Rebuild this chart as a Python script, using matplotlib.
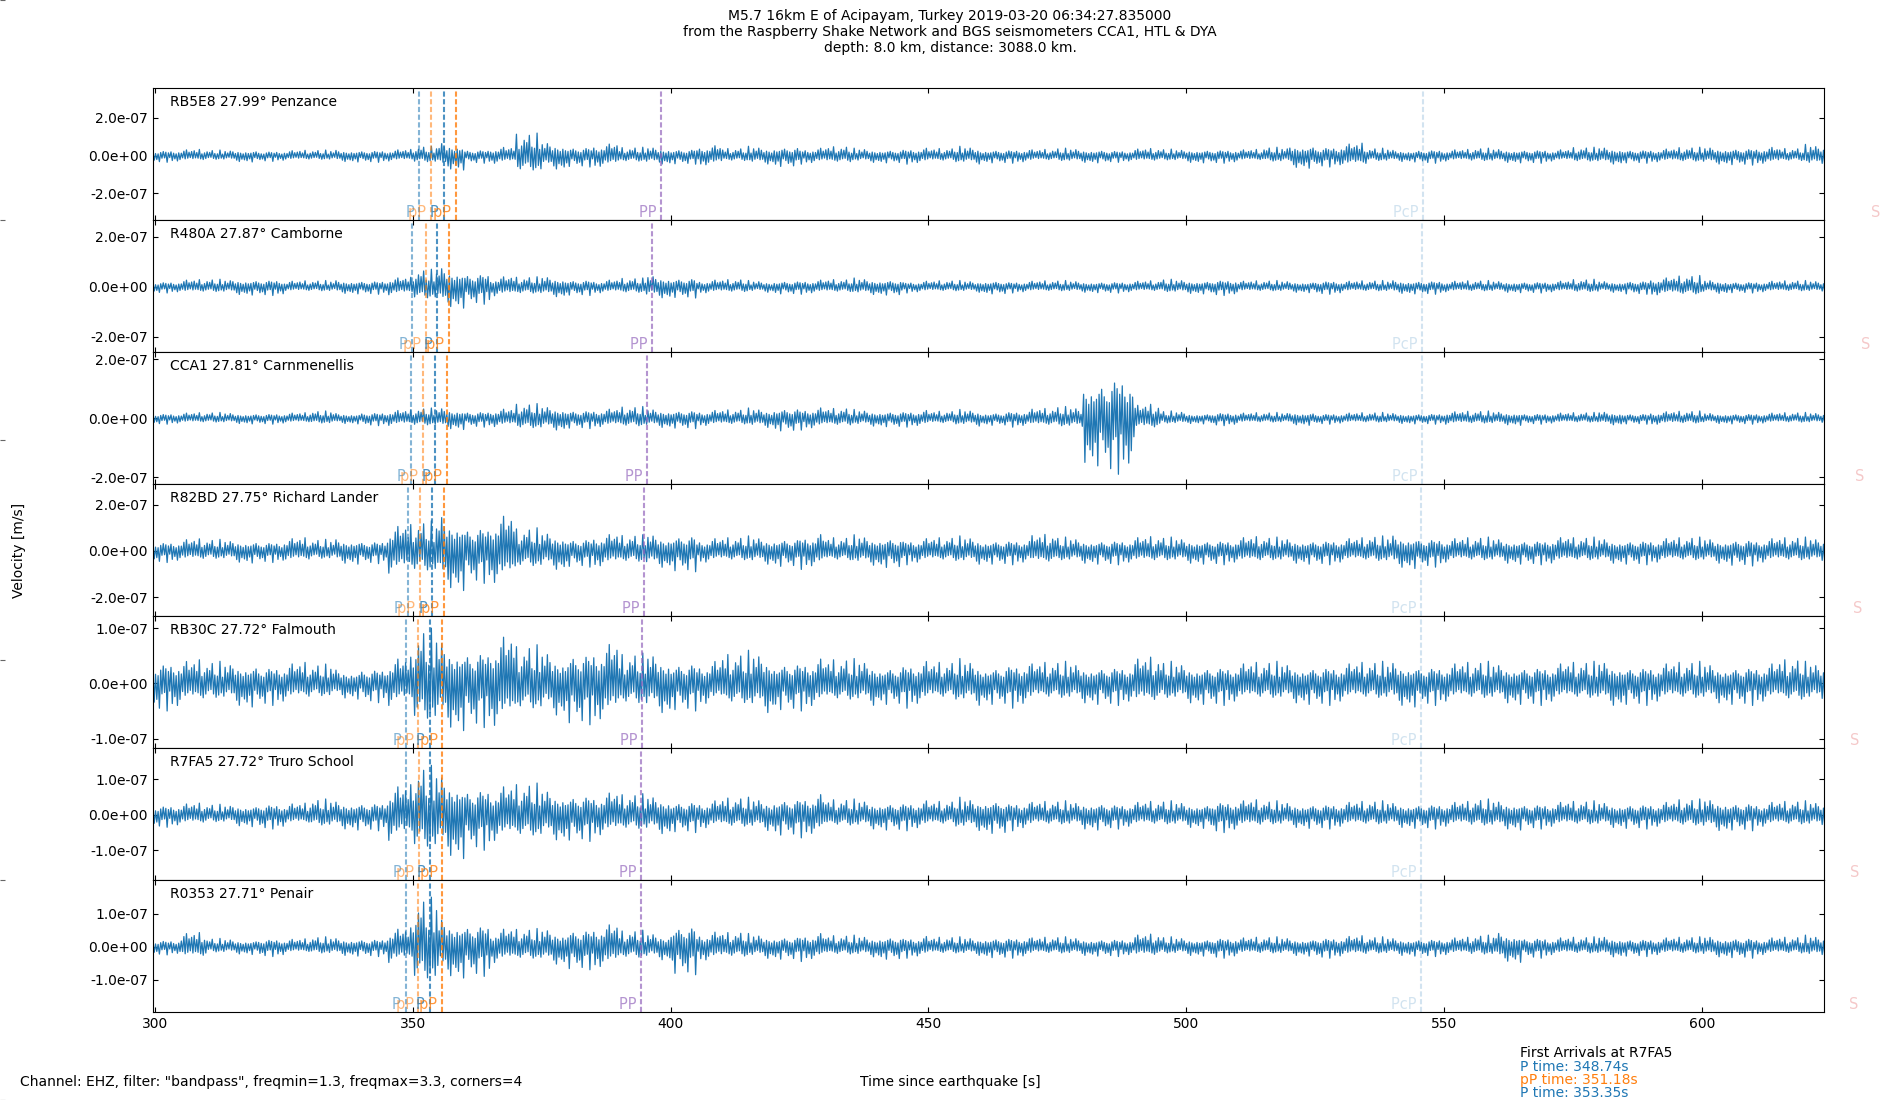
import numpy as np
import matplotlib
matplotlib.use('Agg')
import matplotlib.pyplot as plt
from matplotlib.ticker import FormatStrFormatter

# stations, top to bottom
stations = ['RB5E8 27.99° Penzance', 'R480A 27.87° Camborne', 'CCA1 27.81° Carnmenellis',
            'R82BD 27.75° Richard Lander', 'RB30C 27.72° Falmouth', 'R7FA5 27.72° Truro School',
            'R0353 27.71° Penair']

# peak amplitude per 5 s window from 300 s to 625 s (units 1e-8 m/s)
env_rb5e8 = [3.5, 3.5, 3, 3.5, 3, 3, 3, 3.5, 3.5, 3.5,
             5, 8, 4, 5, 12, 8, 6, 7, 4.5, 5,
             4.5, 6, 4, 5, 6, 4.5, 5, 4, 4, 4.5,
             4, 5, 4, 4, 3.5, 4, 4, 3.5, 4, 3.5,
             4, 4, 3.5, 4.5, 7, 6, 7, 4, 3.5, 4,
             3.5, 4, 4, 4, 3.5, 4.5, 5, 4, 4, 4.5,
             5, 5, 5, 4, 6]
env_r480a = [2.5, 3, 3, 3.5, 3.5, 2.5, 2.5, 3, 3, 4,
             7, 9, 7, 4.5, 4, 4.5, 3.5, 3, 3.5, 5,
             4.5, 3, 3, 2.5, 3, 3, 3, 3.5, 3.5, 2.5,
             2.5, 2.5, 3, 2.5, 2.5, 2.5, 2.5, 2.5, 2.5, 3,
             3, 3.5, 2.5, 2.5, 2.5, 3, 2.5, 2.5, 3, 3,
             2.5, 2.5, 2.5, 2.5, 2.5, 3, 2.5, 3, 4, 4.5,
             3, 2.5, 2.5, 2.5, 2.5]
env_cca1 = [2, 2, 2, 2, 2, 2, 2.5, 2, 2.5, 3,
            3.5, 4, 3, 3.5, 5, 4.5, 3.5, 3.5, 4, 3.5,
            3.5, 3, 3, 3.5, 4.5, 4, 3.5, 3, 3, 3,
            2.5, 3, 2.5, 3, 3.5, 4, 17, 19, 5, 2.5,
            2, 2.5, 2, 2, 2.5, 2, 2, 2, 2, 2,
            2.5, 2.5, 2.5, 2, 2, 2, 2.5, 2, 2.5, 2.5,
            2, 2, 2, 2, 2]
env_r82bd = [5, 5.5, 5, 5.5, 5, 6, 5, 6, 5.5, 12,
             13, 18, 14, 17, 10, 9, 7, 8, 7, 8,
             9, 6, 6, 6.5, 7, 8, 6, 7, 7.5, 6,
             6, 6.5, 6, 6, 7.5, 6, 6, 6, 6.5, 6,
             6, 6, 6.5, 6, 6, 6, 6, 6.5, 8, 7,
             6, 6, 6, 6, 6.5, 6, 6, 6, 6, 6,
             6, 6.5, 6, 6, 6]
env_rb30c = [5, 4.5, 4, 4.5, 4, 4, 3.5, 3, 3.5, 5,
             10, 9, 8, 9.5, 7, 6.5, 7.5, 8, 5.5, 6,
             5, 4.5, 5.5, 6, 5, 5, 4.5, 4.5, 4, 4.5,
             4, 4.5, 4, 4.5, 4, 4, 4, 4, 5, 4,
             4, 4, 4, 4, 4, 4, 4, 4, 4.5, 4,
             4, 4, 4, 4, 4, 4, 4.5, 4, 4, 4,
             4, 4, 4, 4.5, 4]
env_r7fa5 = [3.5, 3.5, 3, 3.5, 4, 3.5, 4.5, 4.5, 4.5, 9,
             14, 13, 10, 9, 9, 8, 7.5, 7, 6, 6,
             5, 4.5, 5, 5, 6, 6.5, 4.5, 4.5, 4.5, 4.5,
             4, 5, 5.5, 4.5, 4, 4, 4.5, 4, 4, 4,
             4, 5, 4.5, 4, 4, 4, 4, 4, 4, 4,
             4, 4.5, 4.5, 4, 4, 4, 4, 4, 4, 4.5,
             5, 4.5, 4, 4, 4]
env_r0353 = [2.5, 4.5, 2.5, 2.5, 3, 2.5, 3, 3, 3, 6,
             15, 10, 9, 6, 5.5, 6, 7, 7.5, 5, 4.5,
             8.5, 5, 4.5, 4, 4, 4.5, 3.5, 3.5, 4, 3.5,
             3, 3, 3.5, 3.5, 3, 3, 3, 3, 4, 3,
             3, 3.5, 3, 3, 3, 3.5, 3.5, 3, 3, 3,
             3, 3.5, 5, 3.5, 3, 3, 3.5, 3, 3, 3,
             3.5, 3.5, 3, 3, 3.5]
envelopes = [env_rb5e8, env_r480a, env_cca1, env_r82bd, env_rb30c, env_r7fa5, env_r0353]

# relative heights of successive half-cycles (mostly low, a few full peaks)
half_cycle_shape = [0.43, 0.68, 0.33, 0.58, 0.28, 0.9, 0.48, 0.38, 0.63, 0.33,
                    0.53, 1.0, 0.43, 0.28, 0.58, 0.73, 0.38, 0.48, 0.28, 0.8,
                    0.43, 0.58, 0.38, 0.33, 0.68, 0.48, 0.88, 0.38, 0.53, 0.28,
                    0.63, 0.43, 0.75, 0.33, 0.48, 0.38, 0.95, 0.48, 0.28, 0.58, 0.43]

# arrival times per station [s]
phases = ['P', 'pP', 'P', 'pP', 'PP', 'PcP', 'S']
arrivals = [
    [351.2, 353.5, 356.0, 358.4, 398.1, 546.0, 635.5],
    [349.9, 352.5, 354.7, 357.0, 396.4, 545.8, 633.5],
    [349.6, 352.0, 354.3, 356.6, 395.5, 545.7, 632.5],
    [349.0, 351.3, 353.7, 356.0, 394.8, 545.6, 632.0],
    [348.7, 351.1, 353.3, 355.7, 394.4, 545.5, 631.4],
    [348.74, 351.18, 353.35, 355.7, 394.3, 545.5, 631.4],
    [348.65, 351.05, 353.25, 355.6, 394.2, 545.5, 631.3],
]
phase_colors = ['tab:blue', 'tab:orange', 'tab:blue', 'tab:orange', 'tab:purple', 'tab:blue', 'tab:red']
phase_alpha = [0.55, 0.55, 0.8, 0.8, 0.7, 0.2, 0.25]

ylims = [(-3.41e-7, 3.59e-7), (-2.61e-7, 2.67e-7), (-2.23e-7, 2.25e-7), (-2.81e-7, 2.89e-7),
         (-1.17e-7, 1.22e-7), (-1.84e-7, 1.89e-7), (-1.98e-7, 2.02e-7)]
yticks = [[-2e-7, 0, 2e-7]] * 4 + [[-1e-7, 0, 1e-7]] * 3

fig = plt.figure(figsize=(19, 11), dpi=100)
bg = fig.add_axes([0, 0, 1, 1], frameon=False)
bg.tick_params(direction='in', labelleft=False, labelbottom=False, bottom=False, color='0.4')
bg.set_zorder(-1)

axs = fig.subplots(7, 1, sharex=True)
plt.subplots_adjust(left=0.0805, right=0.96, bottom=0.08, top=0.92, hspace=0)

t = np.arange(299.6, 623.9, 0.25)
idx = np.clip(((t - 300) // 5).astype(int), 0, 64)
shape = np.array([half_cycle_shape[k % len(half_cycle_shape)] for k in range(len(t))])
sign = np.where(np.arange(len(t)) % 2 == 0, 1.0, -1.0)

for i, ax in enumerate(axs):
    env = np.array(envelopes[i]) * 1e-8
    ax.plot(t, sign * shape * env[idx], color='tab:blue', lw=0.9)
    ax.set_ylim(ylims[i])
    ax.set_yticks(yticks[i])
    ax.yaxis.set_major_formatter(FormatStrFormatter('%.1e'))
    ax.tick_params(direction='in', top=True, right=True)
    ax.text(0.01, 0.95, stations[i], transform=ax.transAxes, va='top', fontsize=10)
    for j, ph in enumerate(phases):
        tt = arrivals[i][j]
        ax.axvline(tt, color=phase_colors[j], alpha=phase_alpha[j], ls='--', lw=1.5, dashes=(2.5, 1.2))
        ax.text(tt, ylims[i][0], ph + ' ', ha='right', va='bottom', color=phase_colors[j],
                alpha=phase_alpha[j], fontsize=10.5)

axs[-1].set_xlim(299.6, 623.7)
axs[-1].set_xticks([300, 350, 400, 450, 500, 550, 600])

fig.suptitle('M5.7 16km E of Acipayam, Turkey 2019-03-20 06:34:27.835000\n'
             'from the Raspberry Shake Network and BGS seismometers CCA1, HTL & DYA\n'
             'depth: 8.0 km, distance: 3088.0 km.', y=0.992, fontsize=10)
fig.text(0.0065, 0.5, 'Velocity [m/s]', rotation=90, va='center', ha='left', fontsize=10)
fig.text(0.5, 0.0127, 'Time since earthquake [s]', ha='center', va='baseline', fontsize=10)
fig.text(0.0105, 0.0127, 'Channel: EHZ, filter: "bandpass", freqmin=1.3, freqmax=3.3, corners=4',
         ha='left', va='baseline', fontsize=10)

fig.text(0.8, 0.0391, 'First Arrivals at R7FA5', va='baseline', fontsize=10)
fig.text(0.8, 0.0268, 'P time: 348.74s', color='tab:blue', va='baseline', fontsize=10)
fig.text(0.8, 0.0145, 'pP time: 351.18s', color='tab:orange', va='baseline', fontsize=10)
fig.text(0.8, 0.0027, 'P time: 353.35s', color='tab:blue', va='baseline', fontsize=10)

fig.savefig('out.png', dpi=100)
